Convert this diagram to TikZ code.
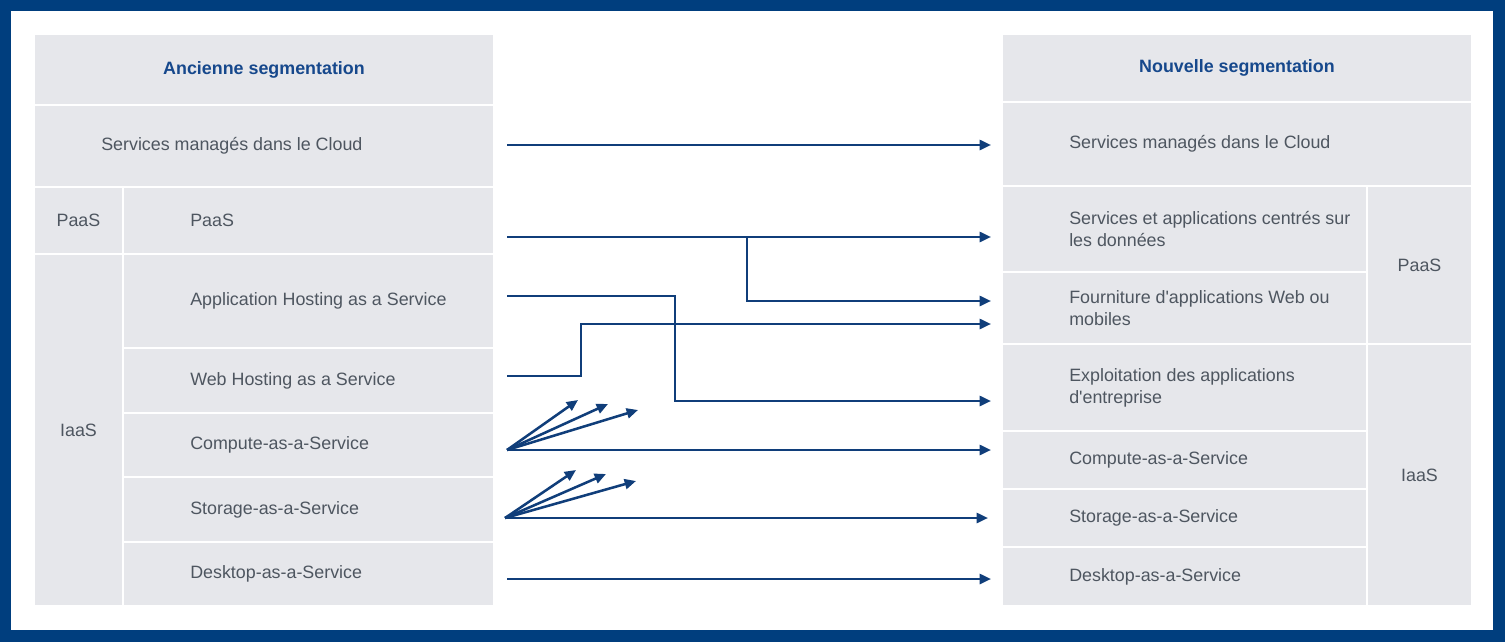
\documentclass[tikz,border=0pt]{standalone}
\usepackage{fontspec}
\setmainfont{Liberation Sans}
\usetikzlibrary{arrows.meta,fit}
\definecolor{frameblue}{RGB}{0,62,126}
\definecolor{arrowblue}{RGB}{16,62,122}
\definecolor{headblue}{RGB}{22,72,140}
\definecolor{cellgray}{RGB}{230,231,235}
\definecolor{textgray}{RGB}{78,86,96}
\tikzset{
  cellbox/.style={fit={#1}, inner sep=0pt, fill=cellgray, draw=none},
  txt/.style={text=textgray, font=\fontsize{13.4}{16.5}\selectfont, inner sep=0pt, align=left},
  hdr/.style={text=headblue, font=\fontsize{13.4}{16.5}\selectfont\bfseries, inner sep=0pt},
  conn/.style={draw=arrowblue, line width=1.9pt, -{Triangle[length=8.5pt,width=7.5pt]}},
}
\begin{document}
\begin{tikzpicture}[x=0.75pt,y=-0.75pt]
\useasboundingbox (0,0) rectangle (1505,642);
% frame
\fill[frameblue] (0,0) rectangle (1505,642);
\fill[white] (11,11) rectangle (1493,630);

% ---------- left table ----------
\node[cellbox={(35,35) (493,104)}] (lhead) {};
\node[cellbox={(35,106) (493,186)}] (lcloud) {};
\node[cellbox={(35,188) (122,253)}] (lpaasg) {};
\node[cellbox={(124,188) (493,253)}] (lpaas) {};
\node[cellbox={(35,255) (122,605)}] (liaasg) {};
\node[cellbox={(124,255) (493,347)}] (lapp) {};
\node[cellbox={(124,349) (493,412)}] (lweb) {};
\node[cellbox={(124,414) (493,476)}] (lcomp) {};
\node[cellbox={(124,478) (493,541)}] (lstor) {};
\node[cellbox={(124,543) (493,605)}] (ldesk) {};

\node[hdr] at (lhead.center) {Ancienne segmentation};
\node[txt, anchor=west] at (101,146) {Services managés dans le Cloud};
\node[txt] at (lpaasg.center) {PaaS};
\node[txt] at (liaasg.center) {IaaS};
\node[txt, anchor=west] at (190,220.5) {PaaS};
\node[txt, anchor=west] at (190,301) {Application Hosting as a Service};
\node[txt, anchor=west] at (190,380.5) {Web Hosting as a Service};
\node[txt, anchor=west] at (190,445) {Compute-as-a-Service};
\node[txt, anchor=west] at (190,509.5) {Storage-as-a-Service};
\node[txt, anchor=west] at (190,574) {Desktop-as-a-Service};

% ---------- right table ----------
\node[cellbox={(1003,35) (1471,101)}] (rhead) {};
\node[cellbox={(1003,103) (1471,185)}] (rcloud) {};
\node[cellbox={(1003,187) (1366,271)}] (rdata) {};
\node[cellbox={(1003,273) (1366,343)}] (rweb) {};
\node[cellbox={(1368,187) (1471,343)}] (rpaasg) {};
\node[cellbox={(1003,345) (1366,430)}] (rexp) {};
\node[cellbox={(1003,432) (1366,488)}] (rcomp) {};
\node[cellbox={(1003,490) (1366,546)}] (rstor) {};
\node[cellbox={(1003,548) (1366,605)}] (rdesk) {};
\node[cellbox={(1368,345) (1471,605)}] (riaasg) {};

\node[hdr] at (rhead.center) {Nouvelle segmentation};
\node[txt, anchor=west] at (1069,144) {Services managés dans le Cloud};
\node[txt, anchor=west] at (1069,229) {Services et applications centrés sur\\les données};
\node[txt, anchor=west] at (1069,308) {Fourniture d\textquotesingle applications Web ou\\mobiles};
\node[txt, anchor=west] at (1069,387.5) {Exploitation des applications\\d\textquotesingle entreprise};
\node[txt, anchor=west] at (1069,460) {Compute-as-a-Service};
\node[txt, anchor=west] at (1069,518) {Storage-as-a-Service};
\node[txt, anchor=west] at (1069,576.5) {Desktop-as-a-Service};
\node[txt] at (rpaasg.center) {PaaS};
\node[txt] at (riaasg.center) {IaaS};

% ---------- connector end points ----------
\coordinate (s1) at (507,145);  \coordinate (e1) at (991,145);
\coordinate (s2) at (507,237);  \coordinate (e2) at (991,237);
\coordinate (b2) at (747,237);  \coordinate (e2b) at (991,301);
\coordinate (s3) at (507,296);  \coordinate (e3) at (991,401);
\coordinate (s4) at (507,376);  \coordinate (e4) at (991,324);
\coordinate (s5) at (507,450);  \coordinate (e5) at (991,450);
\coordinate (f5a) at (578,400); \coordinate (f5b) at (608,404); \coordinate (f5c) at (638,410);
\coordinate (s6) at (505,518);  \coordinate (e6) at (988,518);
\coordinate (f6a) at (576,470); \coordinate (f6b) at (606,474); \coordinate (f6c) at (636,481);
\coordinate (s7) at (507,579);  \coordinate (e7) at (991,579);

% ---------- connectors ----------
\draw[conn] (s1) -- (e1);
\draw[conn] (s2) -- (e2);
\draw[conn] (b2) -- (747,301) -- (e2b);
\draw[conn] (s3) -- (675,296) -- (675,401) -- (e3);
\draw[conn] (s4) -- (581,376) -- (581,324) -- (e4);
\draw[conn] (s5) -- (e5);
\draw[conn] (s5) -- (f5a);
\draw[conn] (s5) -- (f5b);
\draw[conn] (s5) -- (f5c);
\draw[conn] (s6) -- (e6);
\draw[conn] (s6) -- (f6a);
\draw[conn] (s6) -- (f6b);
\draw[conn] (s6) -- (f6c);
\draw[conn] (s7) -- (e7);
\end{tikzpicture}
\end{document}
